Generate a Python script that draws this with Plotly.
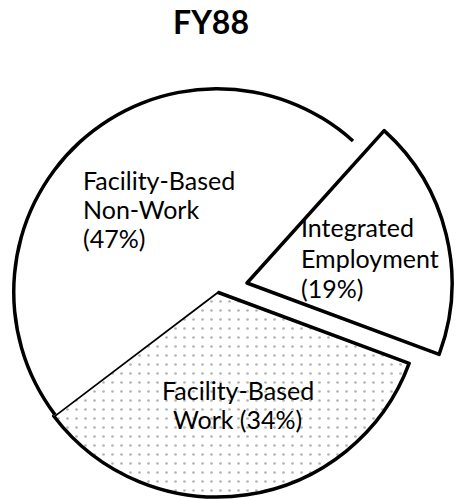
import plotly.graph_objects as go

# ---- data -------------------------------------------------------------
title_text = "FY88"
categories = ["Integrated Employment", "Facility-Based Work", "Facility-Based Non-Work"]
shares = [19, 34, 47]
label_lines = [
    ["Integrated", "Employment", "({}%)"],
    ["Facility-Based", "Work ({}%)"],
    ["Facility-Based", "Non-Work", "({}%)"],
]

W, H = 456, 499
CLEAR = "rgba(0,0,0,0)"
LINE_W = 3.5
FONT = "Lato, 'Open Sans', sans-serif"
LABEL_SIZE = 25


def px_x(x):
    return x / W


def px_y(y):
    return 1 - y / H


def px_domain(cx, cy, r):
    # pie box in pixels -> paper domain (margins are zero)
    return dict(x=[px_x(cx - r), px_x(cx + r)],
                y=[px_y(cy + r), px_y(cy - r)])


main_dom = px_domain(217, 292, 205)
pulled_dom = px_domain(247, 283, 205)

common = dict(labels=categories, values=shares, sort=False,
              direction="clockwise", rotation=42, textinfo="none",
              showlegend=False, hoverinfo="label+percent")

fig = go.Figure()

# main pie: work + non-work (integrated slice left empty here)
fig.add_trace(go.Pie(
    **common,
    domain=main_dom,
    marker=dict(
        colors=[CLEAR, "white", "white"],
        line=dict(color=[CLEAR, "black", CLEAR], width=LINE_W),
        pattern=dict(shape=["", ".", ""], fgcolor="#b4b4b4",
                     size=9, solidity=0.07),
    ),
))

# outer arc of the non-work slice (no radial edge on the open side)
fig.add_trace(go.Pie(
    **common,
    domain=main_dom,
    hole=0.983,
    marker=dict(colors=[CLEAR, CLEAR, "black"], line=dict(width=0)),
))

# integrated employment slice, pulled out
fig.add_trace(go.Pie(
    **common,
    domain=pulled_dom,
    marker=dict(
        colors=["white", CLEAR, CLEAR],
        line=dict(color=["black", CLEAR, CLEAR], width=LINE_W),
    ),
))

# slice labels, one annotation per line so the leading can be set
label_pos = [  # (x px, first baseline px, line step px, anchor)
    (299, 237, 30, "left"),
    (238, 399, 29, "center"),
    (81, 189, 29, "left"),
]
for lines, val, (lx, b0, step, anc) in zip(label_lines, shares, label_pos):
    for i, line in enumerate(lines):
        fig.add_annotation(
            text=line.format(val), x=px_x(lx),
            y=px_y(b0 + i * step - 0.38 * LABEL_SIZE),
            xref="paper", yref="paper", xanchor=anc, yanchor="middle",
            showarrow=False,
            font=dict(family=FONT, size=LABEL_SIZE, color="black"),
        )

fig.update_layout(
    width=W, height=H,
    margin=dict(l=0, r=0, t=0, b=0),
    paper_bgcolor="white", plot_bgcolor="white",
    title=dict(text="<b>" + title_text + "</b>", x=px_x(211), xanchor="center",
               y=px_y(23), yanchor="middle", yref="container",
               font=dict(family=FONT, size=32, color="black")),
)

# drop the default 8px body margin so the figure sits at the page corner
fig.write_html("out.html", config={"displayModeBar": False},
               post_script="document.body.style.margin = '0';")
